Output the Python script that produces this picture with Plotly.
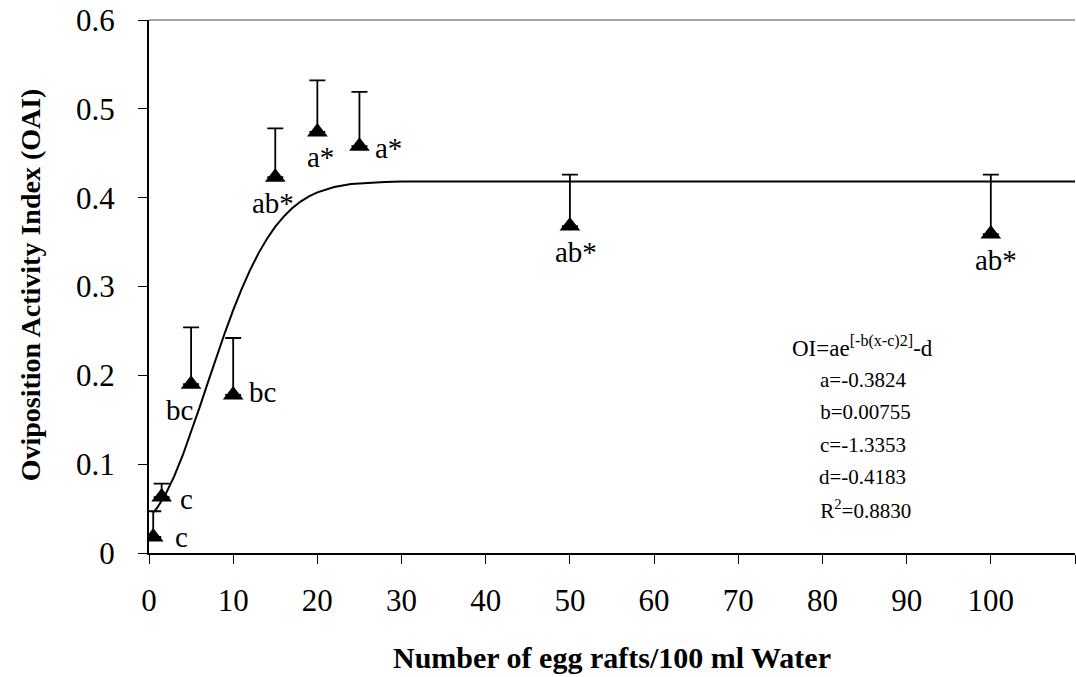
import plotly.graph_objects as go

# Observed oviposition activity index (mean + upper SE) per egg-raft density
rafts = [0.5, 1.5, 5, 10, 15, 20, 25, 50, 100]
oai = [0.018, 0.063, 0.19, 0.178, 0.423, 0.474, 0.458, 0.368, 0.359]
oai_se = [0.029, 0.015, 0.064, 0.064, 0.055, 0.058, 0.061, 0.058, 0.067]
letters = ["c", "c", "bc", "bc", "ab*", "a*", "a*", "ab*", "ab*"]

# Fitted Gaussian-type response curve, sampled along the density axis
fit_x = [0.5, 1, 2, 3, 4, 5, 6, 7, 8, 9, 10, 11, 12, 13, 14, 15, 16, 17, 18,
         19, 20, 22, 24, 26, 28, 30, 110]
fit_y = [0.0455, 0.0513, 0.0667, 0.0865, 0.1098, 0.1359, 0.1636, 0.1920,
         0.2203, 0.2476, 0.2734, 0.2971, 0.3184, 0.3373, 0.3535, 0.3673,
         0.3787, 0.3881, 0.3956, 0.4015, 0.4060, 0.4120, 0.4153, 0.4169,
         0.4177, 0.4181, 0.4183]

x_ticks = [0, 10, 20, 30, 40, 50, 60, 70, 80, 90, 100]
x_tick_text = ["0", "10", "20", "30", "40", "50", "60", "70", "80", "90", "100"]
y_ticks = [0, 0.1, 0.2, 0.3, 0.4, 0.5, 0.6]
y_tick_text = ["0", "0.1", "0.2", "0.3", "0.4", "0.5", "0.6"]

# Letter placement offsets (pixels) relative to each marker
label_pos = [
    (20, 0, "left", "middle"),
    (16, -2, "left", "middle"),
    (4, -8, "right", "top"),
    (14, 3, "left", "middle"),
    (-2, -8, "center", "top"),
    (3, -7, "center", "top"),
    (14, -2, "left", "middle"),
    (6, -8, "center", "top"),
    (5, -8, "center", "top"),
]

FONT = "Liberation Serif, Times New Roman, serif"

fig = go.Figure()

fig.add_trace(go.Scatter(
    x=fit_x, y=fit_y, mode="lines",
    line=dict(color="black", width=2),
    hoverinfo="skip", showlegend=False,
))

fig.add_trace(go.Scatter(
    x=rafts, y=oai, mode="markers",
    marker=dict(symbol="triangle-up", size=18, color="black"),
    error_y=dict(type="data", symmetric=False, array=oai_se,
                 arrayminus=[0] * len(oai_se), color="black",
                 thickness=1.8, width=8),
    showlegend=False,
))

annotations = []
for xv, yv, txt, (dx, dy, xa, ya) in zip(rafts, oai, letters, label_pos):
    annotations.append(dict(
        x=xv, y=yv, xref="x", yref="y", text=txt, showarrow=False,
        xanchor=xa, yanchor=ya, xshift=dx, yshift=dy,
        font=dict(family=FONT, size=29, color="black"),
    ))

# Fitted-model equation and parameters
eq_lines = ["a=-0.3824", "\u00a0b=0.00755", "c=-1.3353", "d=-0.4183", "\u00a0R<sup>2</sup>=0.8830"]
annotations.append(dict(
    x=0.770, y=0.387, xref="paper", yref="paper",
    text="OI=ae<sup>[-b(x-c)2]</sup>-d", showarrow=False,
    xanchor="center", yanchor="middle",
    font=dict(family=FONT, size=23, color="black"),
))
for i, line in enumerate(eq_lines):
    annotations.append(dict(
        x=0.771, y=0.325 - i * 0.061, xref="paper", yref="paper",
        text=line, showarrow=False, xanchor="center", yanchor="middle",
        font=dict(family=FONT, size=21, color="black"),
    ))

# Y-axis title, set further out from the tick labels
annotations.append(dict(
    x=-0.128, y=0.503, xref="paper", yref="paper",
    text="<b>Oviposition Activity Index (OAI)</b>", textangle=-90,
    showarrow=False, xanchor="center", yanchor="middle",
    font=dict(family=FONT, size=28, color="black"),
))

fig.update_layout(
    width=1076, height=677,
    margin=dict(l=149, r=1, t=20, b=124),
    paper_bgcolor="white", plot_bgcolor="white",
    font=dict(family=FONT, color="black"),
    annotations=annotations,
    shapes=[dict(type="line", xref="paper", yref="paper", x0=0, x1=1, y0=1, y1=1,
                 line=dict(color="#888888", width=1.5))],
    xaxis=dict(
        range=[0, 110], tickvals=x_ticks, ticktext=x_tick_text,
        showgrid=False, zeroline=False, showline=True,
        linecolor="black", linewidth=2,
        ticks="outside", ticklen=9, tickwidth=1.2, tickcolor="black",
        minor=dict(tickvals=[110], ticks="outside", ticklen=9,
                   tickwidth=1.2, tickcolor="black", showgrid=False),
        tickfont=dict(family=FONT, size=31, color="black"),
        ticklabelstandoff=10,
        title=dict(text="<b>Number of egg rafts/100 ml Water</b>",
                   font=dict(family=FONT, size=30, color="black"), standoff=30),
    ),
    yaxis=dict(
        range=[0, 0.6], tickvals=y_ticks, ticktext=y_tick_text,
        showgrid=False, zeroline=False, showline=True,
        linecolor="black", linewidth=2,
        ticks="outside", ticklen=9, tickwidth=1.2, tickcolor="black",
        tickfont=dict(family=FONT, size=31, color="black"),
        ticklabelstandoff=17,
    ),
)

fig.write_html("out.html")
